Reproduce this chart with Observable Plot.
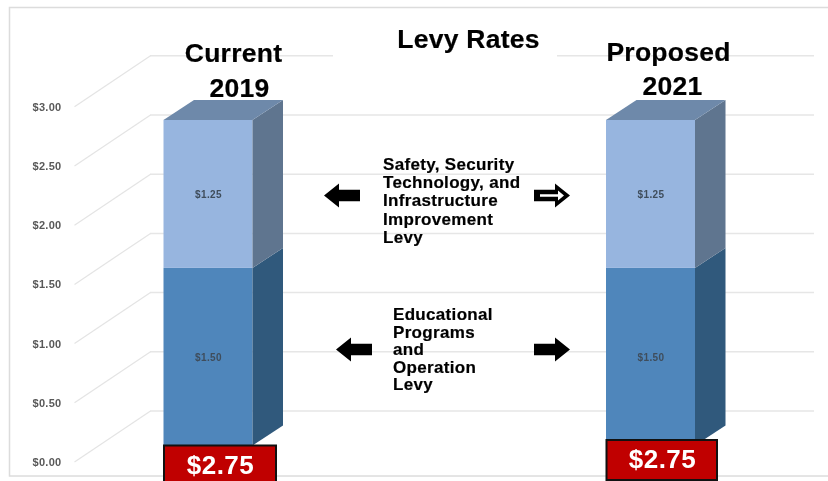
<!DOCTYPE html>
<html>
<head>
<meta charset="utf-8">
<script src="https://cdn.jsdelivr.net/npm/d3@7"></script>
<script src="https://cdn.jsdelivr.net/npm/@observablehq/plot@0.6"></script>
<style>
html,body{margin:0;padding:0;background:#fff}
svg{display:block;filter:blur(0.45px)}
.big{letter-spacing:0.25px}
.mid{letter-spacing:0.32px}
.tot{letter-spacing:0.5px}
.tick{letter-spacing:0.3px}
.val{letter-spacing:0.4px}
</style>
</head>
<body>
<div id="chart"></div>
<script>
// Data
const categories = ["Current", "Proposed"];
const years = ["2019", "2021"];
const educational = [1.50, 1.50];
const safety = [1.25, 1.25];
const totals = [2.75, 2.75];
const tickValues = [0, 0.5, 1, 1.5, 2, 2.5, 3];
const title = "Levy Rates";
const safetyLabel = "Safety, Security\nTechnology, and\nInfrastructure\nImprovement\nLevy";
const educationLabel = "Educational\nPrograms\nand\nOperation\nLevy";

// Layout: horizontal unit = distance between the two columns
const W = 828, H = 481;
const unitX = 442.5, originX = 208;
const unitY = 118.4, originY = 445.5;
const xu = p => (p - originX) / unitX;   // pixel <-> unit helpers for layout only
const yu = p => (originY - p) / unitY;
const halfW = 44.5 / unitX, depthX = 30.5 / unitX, depthY = 20 / unitY;
const font = "'Liberation Sans', Arial, sans-serif";
const fmt = d3.format("$.2f");

const stacks = categories.flatMap((c, i) => [
  {i, y1: 0, y2: educational[i], v: educational[i], front: "#4f86bb", side: "#30597c"},
  {i, y1: educational[i], y2: educational[i] + safety[i], v: safety[i], front: "#97b5df", side: "#5f758f"}
]);
const sidePts = stacks.flatMap((s, k) => [
  {k, x: s.i + halfW, y1: s.y1, y2: s.y2, fill: s.side},
  {k, x: s.i + halfW + depthX, y1: s.y1 + depthY, y2: s.y2 + depthY, fill: s.side}
]);
const topPts = categories.flatMap((c, i) => [
  {i, x1: i - halfW, x2: i + halfW, y: totals[i]},
  {i, x1: i - halfW + depthX, x2: i + halfW + depthX, y: totals[i] + depthY}
]);

// Back wall
const wallLeft = xu(150), wallRight = xu(814), floorLeft = xu(74);
const wallDy = 35 / unitY, frontDy = 16 / unitY;
const gridSegs = tickValues.flatMap(v => v === 3
  ? [{v, x1: wallLeft, x2: xu(333)}, {v, x1: xu(557), x2: wallRight}]
  : [{v, x1: wallLeft, x2: wallRight}]);

// Block arrows as custom vector shapes
const blockArrow = (shaft, head, headLen) => ({
  draw(c, l) {
    c.moveTo(-shaft / 2, 0);
    c.lineTo(-shaft / 2, -(l - headLen));
    c.lineTo(-head / 2, -(l - headLen));
    c.lineTo(0, -l);
    c.lineTo(head / 2, -(l - headLen));
    c.lineTo(shaft / 2, -(l - headLen));
    c.lineTo(shaft / 2, 0);
    c.closePath();
  }
});
const arrows = [
  {x: xu(341.5), y: yu(195), rotate: -90},
  {x: xu(551.5), y: yu(195), rotate: 90},
  {x: xu(353.5), y: yu(349), rotate: -90},
  {x: xu(551.5), y: yu(349), rotate: 90}
];

const boxes = [
  {i: 0, x1: xu(164), x2: xu(276), y1: yu(490), y2: yu(445.5), tx: xu(220), ty: yu(465)},
  {i: 1, x1: xu(606.5), x2: xu(717), y1: yu(480), y2: yu(440), tx: xu(662), ty: yu(459)}
];
const headers = [
  {label: categories[0], x: xu(233), y: yu(53)},
  {label: years[0], x: xu(239), y: yu(88)},
  {label: categories[1], x: xu(668), y: yu(52.5)},
  {label: years[1], x: xu(672), y: yu(86)},
  {label: title, x: xu(468), y: yu(39)}
];
const ink = {fill: "#000", stroke: "#000", strokeWidth: 0.2};

const chart = Plot.plot({
  width: W, height: H,
  marginLeft: 0, marginRight: 0, marginTop: 0, marginBottom: 0,
  style: {background: "#fff", fontFamily: font},
  x: {domain: [xu(0), xu(W)], range: [0, W], axis: null},
  y: {domain: [yu(H), yu(0)], range: [H, 0], axis: null},
  marks: [
    // outer frame
    Plot.rect([0], {x1: xu(9.5), x2: xu(840), y1: yu(476), y2: yu(7.5), fill: "#fff", stroke: "#dcdcdc", strokeWidth: 1.5}),
    // gridlines on wall and diagonal side wall
    Plot.ruleY(gridSegs, {y: "v", x1: "x1", x2: "x2", stroke: "#e6e6e6", strokeWidth: 1.5, dy: -35}),
    Plot.link(tickValues, {x1: floorLeft, x2: wallLeft, y1: d => d - frontDy, y2: d => d + wallDy, stroke: "#e4e4e4", strokeWidth: 1.2}),
    Plot.axisY({ticks: tickValues, tickFormat: fmt, tickSize: 0, tickPadding: 0, dx: 61, dy: 16.5, fontSize: 11, fontWeight: 700, fill: "#595959", label: null, textAnchor: "end", className: "tick"}),
    // 3D columns
    Plot.rect(stacks, {x1: d => d.i - halfW, x2: d => d.i + halfW, y1: "y1", y2: "y2", fill: "front"}),
    Plot.areaY(sidePts, {x: "x", y1: "y1", y2: "y2", z: "k", fill: "fill"}),
    Plot.areaX(topPts, {x1: "x1", x2: "x2", y: "y", z: "i", fill: "#6e89aa"}),
    Plot.text(stacks, {x: "i", y: d => (d.y1 + d.y2) / 2, dy: 0.5, text: d => fmt(d.v), fontSize: 10, fontWeight: 700, fill: "#3f4d5c", className: "val"}),
    // column headers and title
    Plot.text(headers, {x: "x", y: "y", text: "label", fontSize: 26.5, fontWeight: 700, className: "big", ...ink}),
    // descriptions
    Plot.text([safetyLabel], {x: xu(382.5), y: yu(200), text: d => d, textAnchor: "start", fontSize: 17, fontWeight: 700, lineHeight: 1.07, className: "mid", ...ink}),
    Plot.text([educationLabel], {x: xu(392.5), y: yu(349), text: d => d, textAnchor: "start", fontSize: 17, fontWeight: 700, lineHeight: 1.03, className: "mid", ...ink}),
    // arrows
    Plot.vector(arrows, {x: "x", y: "y", rotate: "rotate", length: 36, anchor: "middle", shape: blockArrow(11.5, 24, 15), fill: "#000", stroke: "none"}),
    Plot.vector([arrows[1]], {x: "x", y: "y", rotate: "rotate", length: 24, anchor: "middle", shape: blockArrow(2.5, 10, 6), fill: "#fff", stroke: "none"}),
    // total boxes
    Plot.rect(boxes, {x1: "x1", x2: "x2", y1: "y1", y2: "y2", fill: "#c00000", stroke: "#111", strokeWidth: 2}),
    Plot.text(boxes, {x: "tx", y: "ty", text: d => fmt(totals[d.i]), fontSize: 26, fontWeight: 700, fill: "#fff", className: "tot"})
  ]
});
document.getElementById("chart").appendChild(chart);
</script>
</body>
</html>
